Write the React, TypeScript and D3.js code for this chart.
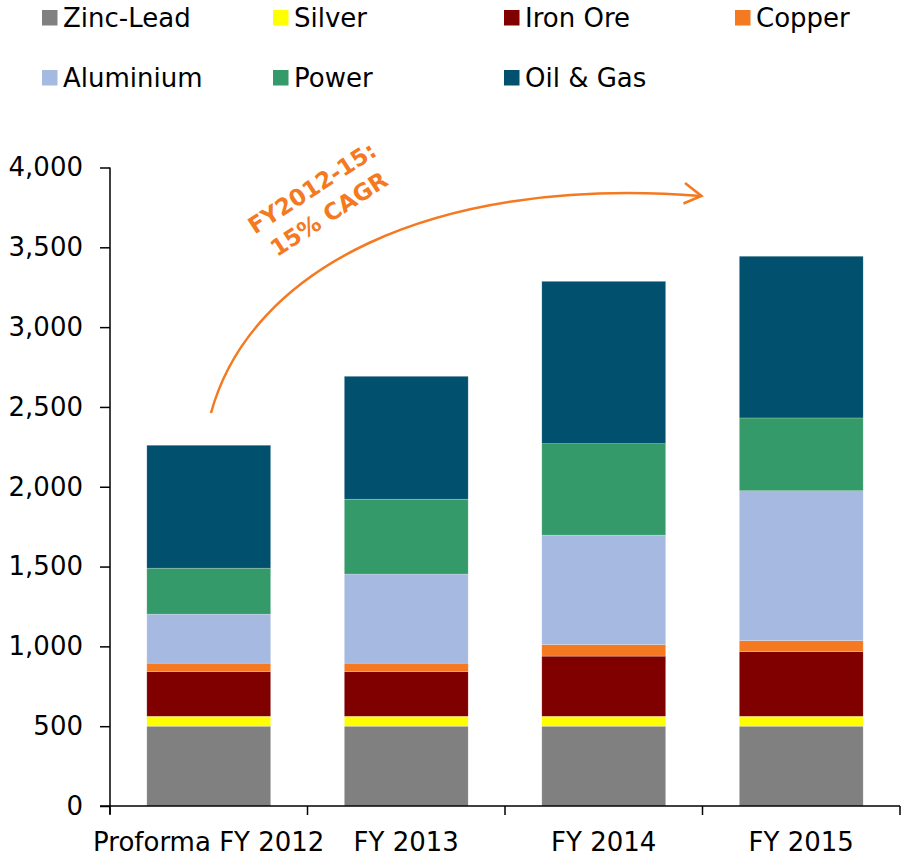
import React, { useEffect, useRef } from "react";
import * as d3 from "d3";

const categories = ["Proforma FY 2012", "FY 2013", "FY 2014", "FY 2015"];
const seriesNames = ["Zinc-Lead", "Silver", "Iron Ore", "Copper", "Aluminium", "Power", "Oil & Gas"];
const zincLead = [500, 500, 500, 500];
const silver = [62, 62, 62, 62];
const ironOre = [280, 280, 377, 405];
const copper = [53, 53, 72, 69];
const aluminium = [307, 558, 686, 939];
const power = [288, 469, 573, 456];
const oilGas = [770, 770, 1017, 1013];
const yTicks = [0, 500, 1000, 1500, 2000, 2500, 3000, 3500, 4000];
const colors = ["#808080", "#FFFF00", "#800000", "#F47920", "#A6B9E0", "#359A69", "#00506E"];
const annotation = ["FY2012-15:", "15% CAGR"];

const W = 904,
	H = 856;
const FONT = "'DejaVu Sans', Verdana, sans-serif";

const drawChart = (svgRef) => {
	const svg = d3.select(svgRef.current);
	svg.selectAll("*").remove();

	const values = [zincLead, silver, ironOre, copper, aluminium, power, oilGas];
	const rows = categories.map((c, i) => {
		const row = { cat: c };
		seriesNames.forEach((s, j) => (row[s] = values[j][i]));
		return row;
	});
	const stacked = d3.stack().keys(seriesNames)(rows);

	const x = d3.scaleBand().domain(categories).range([110, 900]).paddingInner(0.373).paddingOuter(0.1865);
	const y = d3.scaleLinear().domain([0, 4000]).range([806, 167.5]);

	// bars
	svg
		.append("g")
		.selectAll("g")
		.data(stacked)
		.enter()
		.append("g")
		.attr("fill", (d, i) => colors[i])
		.selectAll("rect")
		.data((d) => d)
		.enter()
		.append("rect")
		.attr("x", (d) => x(d.data.cat))
		.attr("width", x.bandwidth())
		.attr("y", (d) => y(d[1]))
		.attr("height", (d) => y(d[0]) - y(d[1]))
		.attr("stroke", "#ffffff")
		.attr("stroke-opacity", 0.35)
		.attr("stroke-width", 0.6);

	// y axis
	const yAxis = d3
		.axisLeft(y)
		.tickValues(yTicks)
		.tickSize(10)
		.tickPadding(17)
		.tickFormat(d3.format(","));
	const gy = svg.append("g").attr("transform", "translate(110,0)").call(yAxis);
	gy.select(".domain").attr("stroke", "#000").attr("stroke-width", 1.5).attr("d", "M0,167.5V814");
	gy.selectAll(".tick line").attr("stroke", "#000").attr("stroke-width", 1.5);
	gy.selectAll(".tick text").attr("font-size", 26).attr("font-family", FONT).attr("fill", "#000");

	// x axis
	const gx = svg.append("g").attr("transform", "translate(0,806)");
	gx.append("line").attr("x1", 100).attr("x2", 900).attr("stroke", "#000").attr("stroke-width", 1.5);
	const edges = categories.map((c) => x(c) - (x.step() - x.bandwidth()) / 2).concat([900]);
	gx.selectAll("line.tk")
		.data(edges)
		.enter()
		.append("line")
		.attr("class", "tk")
		.attr("x1", (d) => d)
		.attr("x2", (d) => d)
		.attr("y1", 0)
		.attr("y2", 9)
		.attr("stroke", "#000")
		.attr("stroke-width", 1.5);
	gx.selectAll("text")
		.data(categories)
		.enter()
		.append("text")
		.attr("x", (d) => x(d) + x.bandwidth() / 2)
		.attr("y", 45)
		.attr("text-anchor", "middle")
		.attr("font-size", 26)
		.attr("font-family", FONT)
		.attr("fill", "#000")
		.text((d) => d);

	// legend
	const legendPos = [
		[42, 18],
		[273, 18],
		[504, 18],
		[735, 18],
		[42, 78],
		[273, 78],
		[504, 78],
	];
	const lg = svg
		.append("g")
		.selectAll("g")
		.data(seriesNames)
		.enter()
		.append("g")
		.attr("transform", (d, i) => `translate(${legendPos[i][0]},${legendPos[i][1]})`);
	lg.append("rect")
		.attr("x", 0)
		.attr("y", -8)
		.attr("width", 15.5)
		.attr("height", 15.5)
		.attr("fill", (d, i) => colors[i]);
	lg.append("text")
		.attr("x", 21)
		.attr("y", 9)
		.attr("font-size", 26)
		.attr("font-family", FONT)
		.attr("fill", "#000")
		.text((d) => d);

	// CAGR arrow
	const orange = "#F47920";
	const path = d3.path();
	path.moveTo(211, 413);
	path.bezierCurveTo(250, 270, 430, 175, 701, 196);
	svg.append("path").attr("d", path.toString()).attr("fill", "none").attr("stroke", orange).attr("stroke-width", 2.5);
	svg.append("path")
		.attr("d", "M685,183 L701.5,196 L683.5,203.5")
		.attr("fill", "none")
		.attr("stroke", orange)
		.attr("stroke-width", 2.5);

	const ann = svg.append("g").attr("transform", "translate(312,188) rotate(-33)");
	ann.selectAll("text")
		.data(annotation)
		.enter()
		.append("text")
		.attr("x", (d, i) => (i === 0 ? 0 : 0))
		.attr("y", (d, i) => i * 31)
		.attr("dy", "0.35em")
		.attr("text-anchor", "middle")
		.attr("font-size", 23)
		.attr("font-weight", "bold")
		.attr("font-family", FONT)
		.attr("fill", orange)
		.text((d) => d);
};

const App = () => {
	const svg = useRef(null);

	useEffect(() => {
		drawChart(svg);
	}, []);

	return (
		<div style={{ position: "absolute", left: 0, top: 0, width: W, height: H, background: "#fff" }}>
			<svg ref={svg} width={W} height={H} style={{ display: "block" }} />
		</div>
	);
};

export default App;
